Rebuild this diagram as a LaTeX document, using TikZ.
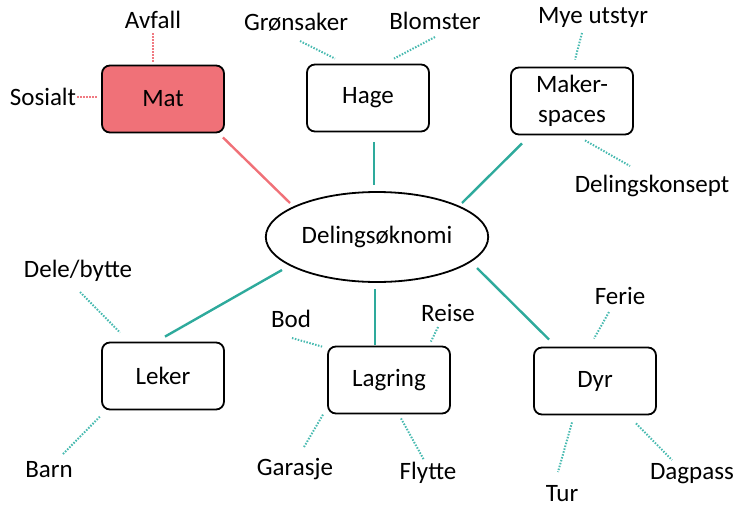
\documentclass[tikz,border=0pt]{standalone}
\usepackage{fontspec}
\setmainfont{Carlito}
\usetikzlibrary{shapes.geometric}
\definecolor{matred}{RGB}{240,113,120}
\definecolor{dotred}{RGB}{240,122,130}
\definecolor{linkteal}{RGB}{46,170,156}
\definecolor{dotteal}{RGB}{72,186,176}
\tikzset{
 topic/.style={draw,line width=1.8pt,rounded corners=8pt,minimum width=122pt,minimum height=67pt,align=center},
 word/.style={inner sep=0pt},
 link/.style={line width=2.4pt,linkteal},
 twig/.style={line width=2pt,dotteal,dash pattern=on 1.5pt off 1.5pt},
}

\begin{document}
\begin{tikzpicture}[x=1pt,y=-1pt,font=\fontsize{25}{30}\selectfont]
\useasboundingbox (0,0) rectangle (736,509);
% midten og de seks temaene
\node[ellipse,draw,line width=1.8pt,minimum width=220pt,minimum height=90pt] (eco) at (377,237) {Delingsøknomi};
\node[topic,fill=matred] (mat) at (163,99) {Mat};
\node[topic] (hage) at (368,98) {Hage};
\node[topic] (maker) at (572,101) {Maker-\\spaces};
\node[topic] (leker) at (163,376) {Leker};
\node[topic] (lagring) at (389,380) {Lagring};
\node[topic] (dyr) at (595,381) {Dyr};
% stikkord
\node[word] (avfall) at (153,20) {Avfall};
\node[word] (sosialt) at (43,97) {Sosialt};
\node[word] (gron) at (296,22) {Grønsaker};
\node[word] (blom) at (435,21) {Blomster};
\node[word] (utstyr) at (593,17) {Mye utstyr};
\node[word] (konsept) at (652,186) {Delingskonsept};
\node[word] (bytte) at (78,271) {Dele/bytte};
\node[word] (barn) at (49,470) {Barn};
\node[word] (bod) at (291,319) {Bod};
\node[word] (reise) at (448,313) {Reise};
\node[word] (garasje) at (295,469) {Garasje};
\node[word] (flytte) at (428,473) {Flytte};
\node[word] (ferie) at (620,296) {Ferie};
\node[word] (tur) at (562,494) {Tur};
\node[word] (dagpass) at (692,474) {Dagpass};
% heltrukne linjer inn mot midten
\draw[link,matred] ([shift={(-2,4)}]mat.south east) -- ([shift={(-87,-34)}]eco.center);
\draw[link] ([shift={(6,10)}]hage.south) -- ([shift={(-3,-6)}]eco.north);
\draw[link] ([shift={(-50,8)}]maker.south) -- ([shift={(85,-34)}]eco.center);
\draw[link] ([shift={(2,-5)}]leker.north) -- ([shift={(-95,33)}]eco.center);
\draw[link] ([shift={(-14,-1)}]lagring.north) -- ([shift={(-2,6)}]eco.south);
\draw[link] ([shift={(16,-7)}]dyr.north west) -- ([shift={(100,31)}]eco.center);
% prikkede linjer ut til stikkordene
\draw[twig,dotred] ([shift={(0,13)}]avfall.center) -- ([shift={(-10,-3)}]mat.north);
\draw[twig,dotred] ([shift={(34,0)}]sosialt.center) -- ([shift={(-4,-2)}]mat.west);
\draw[twig] ([shift={(4,19)}]gron.center) -- ([shift={(-33,-5)}]hage.north);
\draw[twig] ([shift={(0,16)}]blom.center) -- ([shift={(26,-5)}]hage.north);
\draw[twig] ([shift={(-11,16)}]utstyr.center) -- ([shift={(3,-7)}]maker.north);
\draw[twig] ([shift={(13,5)}]maker.south) -- ([shift={(-22,-20)}]konsept.center);
\draw[twig] ([shift={(2,21)}]bytte.center) -- ([shift={(19,-9)}]leker.north west);
\draw[twig] ([shift={(14,-16)}]barn.center) -- ([shift={(-1,6)}]leker.south west);
\draw[twig] ([shift={(1,19)}]bod.center) -- ([shift={(-5,1)}]lagring.north west);
\draw[twig] ([shift={(-10,14)}]reise.center) -- ([shift={(-20,-4)}]lagring.north east);
\draw[twig] ([shift={(9,-22)}]garasje.center) -- ([shift={(-4,0)}]lagring.south west);
\draw[twig] ([shift={(12,4)}]lagring.south) -- ([shift={(-4,-13)}]flytte.center);
\draw[twig] ([shift={(-11,16)}]ferie.center) -- ([shift={(-1,-8)}]dyr.north);
\draw[twig] ([shift={(-23,7)}]dyr.south) -- ([shift={(-4,-22)}]tur.center);
\draw[twig] ([shift={(41,8)}]dyr.south) -- ([shift={(-20,-14)}]dagpass.center);
\end{tikzpicture}
\end{document}
